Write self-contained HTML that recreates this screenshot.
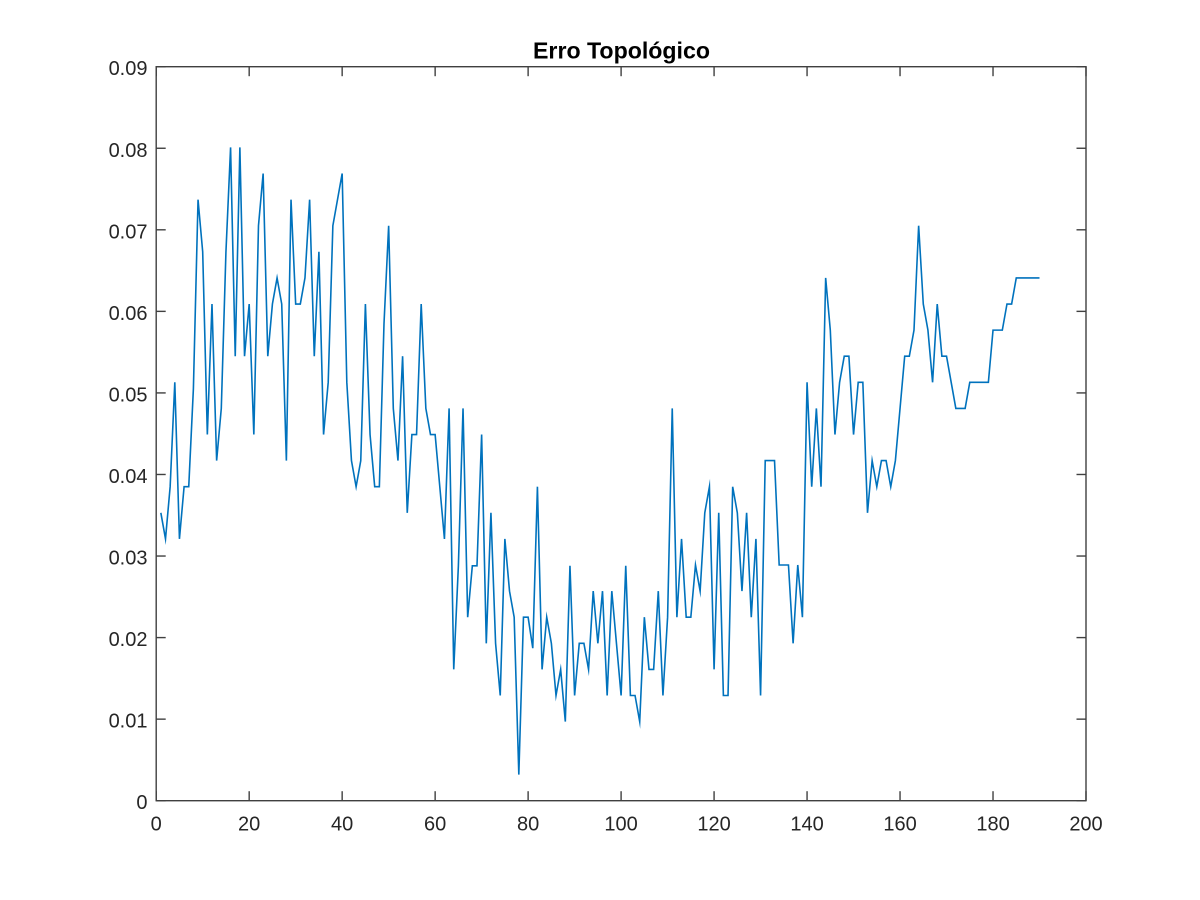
<!DOCTYPE html>
<html lang="pt">
<head>
<meta charset="utf-8">
<title>Erro Topológico</title>
<style>
html,body{margin:0;padding:0;background:#fff;width:1200px;height:900px;overflow:hidden}
svg{display:block}
text{font-family:"Liberation Sans",Arial,sans-serif;fill:#262626}
</style>
</head>
<body>
<svg id="chart" xmlns="http://www.w3.org/2000/svg" width="1200" height="900" viewBox="0 0 1200 900">
<rect x="0" y="0" width="1200" height="900" fill="#ffffff"/>
<text x="621.5" y="58.3" font-size="23" font-weight="bold" text-anchor="middle" textLength="177" lengthAdjust="spacingAndGlyphs" style="fill:#000000">Erro Topológico</text>
<g id="ticks"></g>
<g id="labels"></g>
<polyline id="series" fill="none" stroke="#0072BD" stroke-width="1.6" stroke-linejoin="miter" stroke-miterlimit="10"></polyline>
<rect x="156.2" y="66.7" width="929.8" height="734" fill="none" stroke="#404040" stroke-width="1.4"/>
</svg>
<script>
const xTicks = [0,20,40,60,80,100,120,140,160,180,200];
const yTicks = [0,0.01,0.02,0.03,0.04,0.05,0.06,0.07,0.08,0.09];
const xTickLabels = ["0","20","40","60","80","100","120","140","160","180","200"];
const yTickLabels = ["0","0.01","0.02","0.03","0.04","0.05","0.06","0.07","0.08","0.09"];
const errorValues = [
.0353,.0321,.0385,.0513,.0321,.0385,.0385,.0505,.0737,.0673,
.0449,.0609,.0417,.0481,.0673,.0801,.0545,.0801,.0545,.0609,
.0449,.0705,.0769,.0545,.0609,.0641,.0609,.0417,.0737,.0609,
.0609,.0641,.0737,.0545,.0673,.0449,.0513,.0705,.0737,.0769,
.0513,.0417,.0385,.0417,.0609,.0449,.0385,.0385,.0585,.0705,
.0481,.0417,.0545,.0353,.0449,.0449,.0609,.0481,.0449,.0449,
.0385,.0321,.0481,.0161,.0288,.0481,.0225,.0288,.0288,.0449,
.0193,.0353,.0193,.0129,.0321,.0257,.0225,.0032,.0225,.0225,
.0187,.0385,.0161,.0225,.0193,.0129,.0161,.0097,.0288,.0129,
.0193,.0193,.0161,.0257,.0193,.0257,.0129,.0257,.0193,.0129,
.0288,.0129,.0129,.0097,.0225,.0161,.0161,.0257,.0129,.0225,
.0481,.0225,.0321,.0225,.0225,.0289,.0257,.0353,.0385,.0161,
.0353,.0129,.0129,.0385,.0353,.0257,.0353,.0225,.0321,.0129,
.0417,.0417,.0417,.0289,.0289,.0289,.0193,.0289,.0225,.0513,
.0385,.0481,.0385,.0641,.0577,.0449,.0513,.0545,.0545,.0449,
.0513,.0513,.0353,.0417,.0385,.0417,.0417,.0385,.0417,.0481,
.0545,.0545,.0577,.0705,.0609,.0577,.0513,.0609,.0545,.0545,
.0513,.0481,.0481,.0481,.0513,.0513,.0513,.0513,.0513,.0577,
.0577,.0577,.0609,.0609,.0641,.0641,.0641,.0641,.0641,.0641
];
const SVG_NS = 'http://www.w3.org/2000/svg';
const plot = {left:156.2, right:1086, top:66.7, bottom:800.7, xMin:0, xMax:200, yMin:0, yMax:0.09, tick:9.5};
function xScale(v){ return plot.left + (v - plot.xMin) / (plot.xMax - plot.xMin) * (plot.right - plot.left); }
function yScale(v){ return plot.bottom - (v - plot.yMin) / (plot.yMax - plot.yMin) * (plot.bottom - plot.top); }
const tickGroup = document.getElementById('ticks');
const labelGroup = document.getElementById('labels');
function addTick(x1,y1,x2,y2,name){
  const l = document.createElementNS(SVG_NS,'line');
  l.setAttribute('x1',x1);
  l.setAttribute('y1',y1);
  l.setAttribute('x2',x2);
  l.setAttribute('y2',y2);
  l.setAttribute('stroke','#404040');
  l.setAttribute('stroke-width','1.4');
  
  
  tickGroup.appendChild(l);
}
function addLabel(x,y,anchor,str,name){
  const t = document.createElementNS(SVG_NS,'text');
  t.setAttribute('x',x);
  t.setAttribute('y',y);
  t.setAttribute('font-size','20');
  t.setAttribute('text-anchor',anchor);
  t.textContent = str;
  
  
  labelGroup.appendChild(t);
}
xTicks.forEach(function(v,i){
  const x = xScale(v);
  addTick(x,plot.bottom,x,plot.bottom-plot.tick,'x-tick-bottom');
  addTick(x,plot.top,x,plot.top+plot.tick,'x-tick-top');
  addLabel(x,830.5,'middle',xTickLabels[i],'x-tick-label');
});
yTicks.forEach(function(v,i){
  const y = yScale(v);
  addTick(plot.left,y,plot.left+plot.tick,y,'y-tick-left');
  addTick(plot.right,y,plot.right-plot.tick,y,'y-tick-right');
  addLabel(147.5,y+8.5,'end',yTickLabels[i],'y-tick-label');
});
document.getElementById('series').setAttribute('points', errorValues.map(function(v,i){
  return xScale(i+1).toFixed(2) + ',' + yScale(v).toFixed(2);
}).join(' '));
</script>
</body>
</html>
